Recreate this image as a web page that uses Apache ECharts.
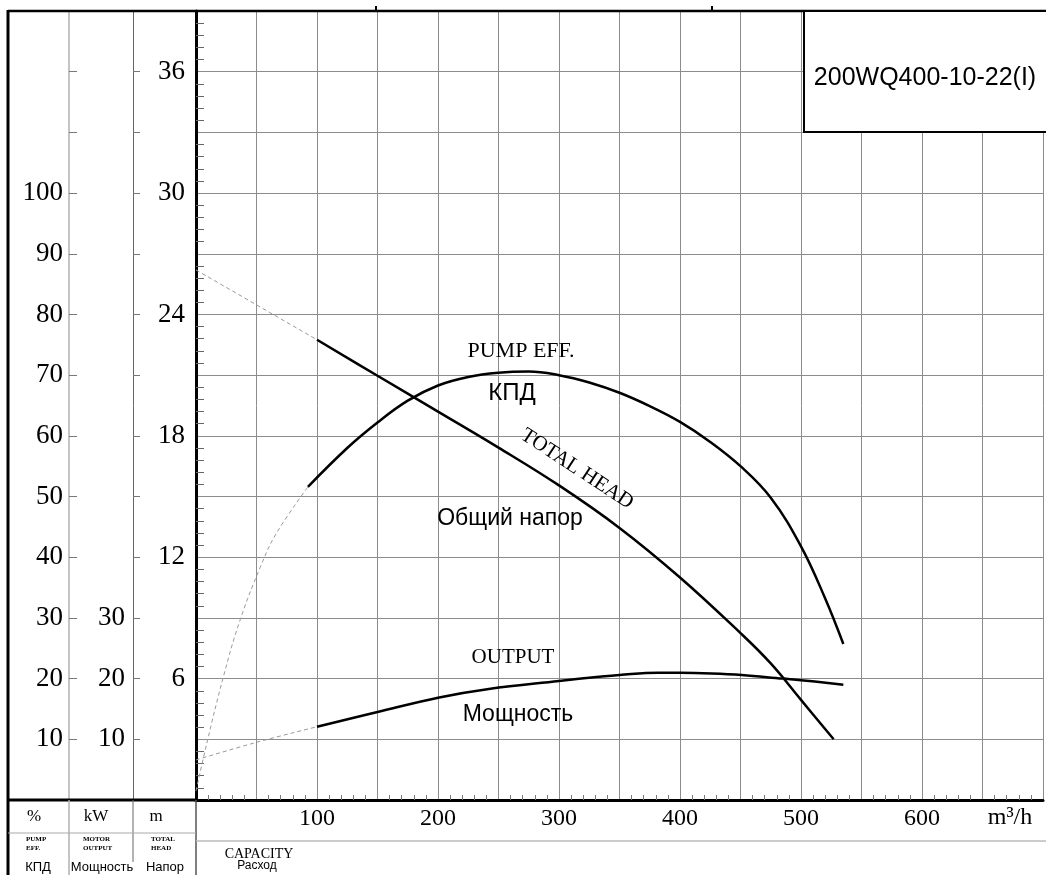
<!DOCTYPE html>
<html><head><meta charset="utf-8">
<script src="https://cdn.jsdelivr.net/npm/echarts@6/dist/echarts.min.js"></script>
<style>html,body{margin:0;padding:0;background:#fff}#c{width:1046px;height:875px}</style>
</head><body><div id="c"></div>
<script>
// ---- data ----
const headQ = [100, 150, 200, 250, 300, 350, 400, 450, 475, 500, 527];
const headM = [22.75, 20.97, 19.2, 17.42, 15.55, 13.45, 11.0, 8.25, 6.75, 4.95, 3.0];
const headDashQ = [0, 100];
const headDashM = [26.2, 22.75];

const effQ = [92.5, 125, 150, 175, 200, 225, 250, 275, 300, 325, 350, 375, 400, 425, 450, 475, 500, 520, 535];
const effPct = [51.6, 58.0, 62.2, 65.8, 68.3, 69.7, 70.4, 70.6, 70.0, 68.8, 67.1, 64.9, 62.3, 59.0, 55.0, 49.8, 41.8, 33.2, 25.7];
const effDashQ = [0, 9, 22.5, 36, 53, 66, 92.5];
const effDashPct = [1.5, 9.4, 20.2, 29.4, 38.3, 43.8, 51.6];

const powQ = [100, 150, 201, 242, 300, 333, 350, 382, 400, 426, 451, 485, 500, 535];
const powKW = [12.07, 14.5, 16.9, 18.3, 19.6, 20.3, 20.6, 20.95, 20.95, 20.85, 20.6, 20.0, 19.75, 19.0];
const powDashQ = [0, 50, 100];
const powDashKW = [6.6, 9.5, 12.07];

const capacityTicks = [100, 200, 300, 400, 500, 600];
const headTicks = [6, 12, 18, 24, 30, 36];
const effTicks = [10, 20, 30, 40, 50, 60, 70, 80, 90, 100];
const kwTicks = [10, 20, 30];

const modelName = '200WQ400-10-22(I)';

// ---- chart ----
const SERIF = 'Liberation Serif';
const SANS = 'Liberation Sans';
function pairs(a, b) { return a.map((q, i) => [q, b[i]]); }
function only(list) { return v => (list.indexOf(v) >= 0 ? String(v) : ''); }

const solid = { color: '#000', width: 2.5 };
const dashed = { color: '#9a9a9a', width: 1, type: [4, 3] };

function txt(text, x, y, font, opts) {
  return Object.assign({
    type: 'text', x: x, y: y, z: 120, silent: true,
    style: { text: text, font: font, fill: '#000', textAlign: 'center', textVerticalAlign: 'middle' }
  }, opts || {});
}
function ln(x1, y1, x2, y2, color, w) {
  return { type: 'line', z: 110, silent: true, shape: { x1, y1, x2, y2 }, style: { stroke: color, lineWidth: w } };
}

const chart = echarts.init(document.getElementById('c'), null, { renderer: 'canvas' });
chart.setOption({
  animation: false,
  backgroundColor: '#fff',
  grid: { left: 196, right: 0, top: 11, bottom: 75, containLabel: false },
  xAxis: {
    type: 'value', min: 0, max: 700, interval: 50,
    axisLine: { show: true, onZero: false, lineStyle: { color: '#000', width: 3 } },
    axisTick: { show: false, inside: true },
    minorTick: { show: true, splitNumber: 5, length: 5, lineStyle: { color: '#777', width: 1 } },
    splitLine: { show: true, lineStyle: { color: '#8c8c8c', width: 1 } },
    axisLabel: { formatter: only(capacityTicks), margin: 7, fontFamily: SERIF, fontSize: 24, color: '#000' }
  },
  yAxis: [
    { // head, m
      type: 'value', position: 'left', offset: 0, min: 0, max: 39, interval: 3,
      axisLine: { show: true, onZero: false, lineStyle: { color: '#000', width: 3 } },
      axisTick: { show: false, inside: true },
      minorTick: { show: true, splitNumber: 5, length: 8, lineStyle: { color: '#666', width: 1 } },
      splitLine: { show: true, lineStyle: { color: '#8c8c8c', width: 1 } },
      axisLabel: { formatter: only(headTicks), margin: 11, fontFamily: SERIF, fontSize: 27, color: '#000' }
    },
    { // efficiency, %
      type: 'value', position: 'left', offset: 127, min: 0, max: 130, interval: 10,
      axisLine: { show: true, onZero: false, lineStyle: { color: '#b0b0b0', width: 1.5 } },
      axisTick: { show: true, inside: true, length: 8, lineStyle: { color: '#777', width: 1 } },
      splitLine: { show: false },
      axisLabel: { formatter: only(effTicks), margin: 6, fontFamily: SERIF, fontSize: 27, color: '#000' }
    },
    { // motor output, kW
      type: 'value', position: 'left', offset: 63, min: 0, max: 130, interval: 10,
      axisLine: { show: true, onZero: false, lineStyle: { color: '#666', width: 1 } },
      axisTick: { show: true, inside: true, length: 7, lineStyle: { color: '#777', width: 1 } },
      splitLine: { show: false },
      axisLabel: { formatter: only(kwTicks), margin: 8, fontFamily: SERIF, fontSize: 27, color: '#000' }
    }
  ],
  series: [
    { type: 'line', yAxisIndex: 0, data: pairs(headDashQ, headDashM), showSymbol: false, lineStyle: dashed, silent: true, z: 3 },
    { type: 'line', yAxisIndex: 0, data: pairs(headQ, headM), smooth: 0.4, showSymbol: false, lineStyle: solid, silent: true, z: 4 },
    { type: 'line', yAxisIndex: 1, data: pairs(effDashQ, effDashPct), smooth: 0.4, showSymbol: false, lineStyle: dashed, silent: true, z: 3 },
    { type: 'line', yAxisIndex: 1, data: pairs(effQ, effPct), smooth: 0.4, showSymbol: false, lineStyle: solid, silent: true, z: 4 },
    { type: 'line', yAxisIndex: 2, data: pairs(powDashQ, powDashKW), smooth: 0.4, showSymbol: false, lineStyle: dashed, silent: true, z: 3 },
    { type: 'line', yAxisIndex: 2, data: pairs(powQ, powKW), smooth: 0.4, showSymbol: false, lineStyle: solid, silent: true, z: 4 }
  ],
  graphic: { elements: [
    // frame / table lines
    ln(8, 11, 1046, 11, '#000', 2.5),
    ln(8, 10, 8, 875, '#000', 3),
    ln(8, 800, 196, 800, '#000', 3),
    ln(69, 800, 69, 875, '#b0b0b0', 1.5),
    ln(133, 800, 133, 862, '#666', 1),
    ln(196, 800, 196, 875, '#555', 1.5),
    ln(8, 833, 196, 833, '#aaa', 1),
    ln(196, 841, 1046, 841, '#bbb', 1.5),
    ln(376, 6, 376, 11, '#000', 2),
    ln(712, 6, 712, 11, '#000', 2),
    // model box
    { type: 'rect', z: 115, silent: true, shape: { x: 804, y: 11, width: 244, height: 121 },
      style: { fill: '#fff', stroke: '#000', lineWidth: 2 } },
    txt(modelName, 925, 78, '25px "' + SANS + '"', { z: 130 }),
    // curve labels
    txt('PUMP EFF.', 521, 351, '22px "' + SERIF + '"'),
    txt('КПД', 512, 393, '24px "' + SANS + '"'),
    txt('TOTAL HEAD', 577, 469, '21px "' + SERIF + '"', { rotation: -0.58 }),
    txt('Общий напор', 510, 519, '23px "' + SANS + '"'),
    txt('OUTPUT', 513, 657, '21px "' + SERIF + '"'),
    txt('Мощность', 518, 715, '23px "' + SANS + '"'),
    // bottom header
    txt('%', 34, 817, '17px "' + SERIF + '"'),
    txt('kW', 96, 817, '17px "' + SERIF + '"'),
    txt('m', 156, 817, '17px "' + SERIF + '"'),
    txt('m³/h', 1010, 818, '24px "' + SERIF + '"'),
    { type: 'text', x: 26, y: 835, z: 120, silent: true, style: { text: 'PUMP\nEFF.', font: 'bold 7px "' + SERIF + '"', fill: '#000', lineHeight: 9 } },
    { type: 'text', x: 83, y: 835, z: 120, silent: true, style: { text: 'MOTOR\nOUTPUT', font: 'bold 7px "' + SERIF + '"', fill: '#000', lineHeight: 9 } },
    { type: 'text', x: 151, y: 835, z: 120, silent: true, style: { text: 'TOTAL\nHEAD', font: 'bold 7px "' + SERIF + '"', fill: '#000', lineHeight: 9 } },
    txt('КПД', 38, 867, '13px "' + SANS + '"'),
    txt('Мощность', 102, 867, '13px "' + SANS + '"'),
    txt('Напор', 165, 867, '13px "' + SANS + '"'),
    txt('CAPACITY', 259, 854, '14px "' + SERIF + '"'),
    txt('Расход', 257, 866, '12px "' + SANS + '"')
  ] }
});
</script>
</body></html>
